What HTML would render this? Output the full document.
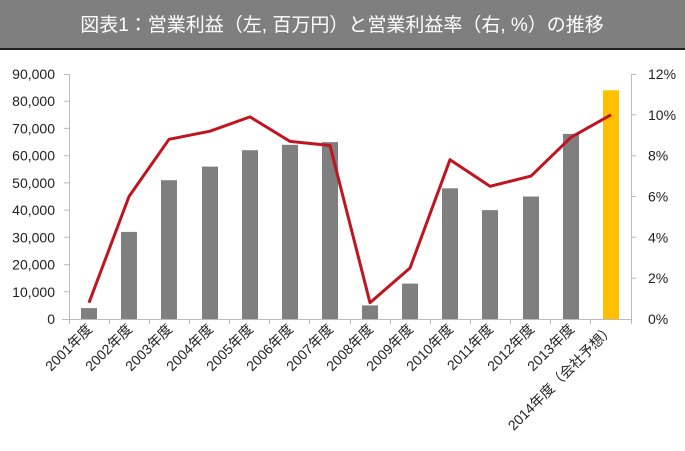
<!DOCTYPE html><html><head><meta charset="utf-8"><style>body{margin:0;background:#fff}svg{display:block}text{font-family:"Liberation Sans","Noto Sans CJK JP",sans-serif}</style></head><body>
<svg width="685" height="451" xmlns="http://www.w3.org/2000/svg">
<rect x="0" y="0" width="685" height="49" fill="#7f7f7f"/>
<rect x="0" y="48" width="685" height="2" fill="#222"/>
<text x="342" y="31" fill="#fff" font-size="19" text-anchor="middle">図表1：営業利益（左, 百万円）と営業利益率（右, %）の推移</text>
<g fill="#7f7f7f">
<rect x="81" y="308.1" width="16" height="10.9"/>
<rect x="121" y="231.9" width="16" height="87.1"/>
<rect x="161" y="180.2" width="16" height="138.8"/>
<rect x="202" y="166.6" width="16" height="152.4"/>
<rect x="242" y="150.2" width="16" height="168.8"/>
<rect x="282" y="144.8" width="16" height="174.2"/>
<rect x="322" y="142.1" width="16" height="176.9"/>
<rect x="362" y="305.4" width="16" height="13.6"/>
<rect x="402" y="283.6" width="16" height="35.4"/>
<rect x="442" y="188.3" width="16" height="130.7"/>
<rect x="482" y="210.1" width="16" height="108.9"/>
<rect x="523" y="196.5" width="16" height="122.5"/>
<rect x="563" y="133.9" width="16" height="185.1"/>
</g>
<rect x="603" y="90.3" width="16" height="228.7" fill="#ffc000"/>
<g stroke="#bbb" stroke-width="1">
<line x1="62" y1="319.5" x2="631" y2="319.5"/>
<line x1="69.5" y1="74" x2="69.5" y2="319"/>
<line x1="631.5" y1="74" x2="631.5" y2="319"/>
<path d="M69.5 319v5M109.5 319v5M149.5 319v5M189.5 319v5M229.5 319v5M269.5 319v5M309.5 319v5M350.5 319v5M390.5 319v5M430.5 319v5M470.5 319v5M510.5 319v5M550.5 319v5M590.5 319v5M631.5 319v5"/>
<path d="M64 291.8h5M64 264.6h5M64 237.3h5M64 210.1h5M64 182.9h5M64 155.7h5M64 128.4h5M64 101.2h5M64 74.5h5"/>
<path d="M631 278.2h5M631 237.3h5M631 196.5h5M631 155.7h5M631 114.8h5M631 74.5h5"/>
</g>
<g font-size="14" fill="#222" text-anchor="end">
<text x="55" y="324">0</text>
<text x="55" y="296.8">10,000</text>
<text x="55" y="269.6">20,000</text>
<text x="55" y="242.3">30,000</text>
<text x="55" y="215.1">40,000</text>
<text x="55" y="187.9">50,000</text>
<text x="55" y="160.7">60,000</text>
<text x="55" y="133.4">70,000</text>
<text x="55" y="106.2">80,000</text>
<text x="55" y="79">90,000</text>
</g>
<g font-size="14" fill="#222">
<text x="648" y="324">0%</text>
<text x="648" y="283.2">2%</text>
<text x="648" y="242.3">4%</text>
<text x="648" y="201.5">6%</text>
<text x="648" y="160.7">8%</text>
<text x="648" y="119.8">10%</text>
<text x="648" y="79">12%</text>
</g>
<polyline points="89,302.7 129,196.5 169,139.3 210,131.2 250,116.9 290,141.4 330,145.5 370,302.7 410,268 450,159.7 490,186.3 531,176.1 571,137.3 611,114.8" fill="none" stroke="#c0141e" stroke-width="3" stroke-linejoin="round"/>
<g font-size="14" fill="#222" text-anchor="end">
<text transform="translate(93,330) rotate(-45)">2001年度</text>
<text transform="translate(133,330) rotate(-45)">2002年度</text>
<text transform="translate(173,330) rotate(-45)">2003年度</text>
<text transform="translate(214,330) rotate(-45)">2004年度</text>
<text transform="translate(254,330) rotate(-45)">2005年度</text>
<text transform="translate(294,330) rotate(-45)">2006年度</text>
<text transform="translate(334,330) rotate(-45)">2007年度</text>
<text transform="translate(374,330) rotate(-45)">2008年度</text>
<text transform="translate(414,330) rotate(-45)">2009年度</text>
<text transform="translate(454,330) rotate(-45)">2010年度</text>
<text transform="translate(494,330) rotate(-45)">2011年度</text>
<text transform="translate(535,330) rotate(-45)">2012年度</text>
<text transform="translate(575,330) rotate(-45)">2013年度</text>
<text transform="translate(615,330) rotate(-45)">2014年度（会社予想）</text>
</g>
</svg></body></html>
